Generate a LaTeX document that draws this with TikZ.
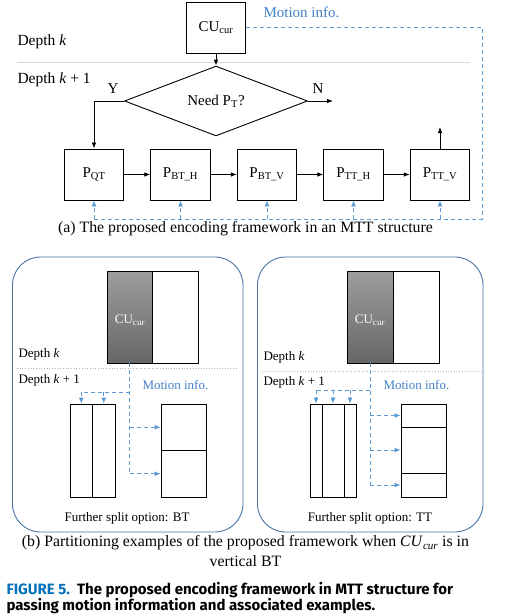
\documentclass[tikz,border=0pt]{standalone}
\usepackage{fontspec}
\setmainfont{Liberation Serif}
\newfontfamily\figfont{Fira Sans}
\usetikzlibrary{shapes.geometric,arrows.meta,positioning,calc}
\definecolor{mvBlue}{RGB}{91,155,213}
\definecolor{mvText}{RGB}{66,128,198}
\definecolor{panelBlue}{RGB}{72,116,164}
\definecolor{figBlue}{RGB}{0,112,186}

\begin{document}
\begin{tikzpicture}[x=1pt, y=-1pt,
    every node/.style={font=\fontsize{15}{17}\selectfont},
    pbox/.style={draw, line width=0.9pt, minimum width=59.5pt, minimum height=51pt, inner sep=0pt},
    flow/.style={-{Latex[length=6pt,width=4.5pt]}, line width=0.8pt},
    mvline/.style={mvBlue, line width=0.9pt, dash pattern=on 4pt off 3pt},
    mvarrow/.style={mvline, -{Latex[length=6pt,width=5pt]}},
    cell/.style={draw, line width=0.8pt, inner sep=0pt},
    cucell/.style={cell, top color=black!38, bottom color=black!60, text=white!88},
    panel/.style={draw=panelBlue, line width=0.9pt, rounded corners=28pt},
    small/.style={font=\fontsize{13}{15}\selectfont},
    capt/.style={font=\fontsize{15.8}{18}\selectfont},
    figcap/.style={anchor=west, font=\figfont\bfseries\fontsize{15}{17}\selectfont}]
  \useasboundingbox (0,0) rectangle (504,616);

  % (a) Encoding framework
  \node[pbox, minimum width=59pt] (cu) at (216,27.5) {CU\textsubscript{cur}};
  \node[anchor=west, mvText] (mi) at (260,12) {Motion info.};
  \node[anchor=west, font=\fontsize{15.5}{17}\selectfont] (dk) at (14,42) {Depth \textit{k}};
  \node[anchor=west, font=\fontsize{15.5}{17}\selectfont] (dk1) at (14,80) {Depth \textit{k} + 1};
  \draw[black!15, line width=0.8pt] (17,62) -- (470,62);
  \node[draw, diamond, line width=0.9pt, minimum width=183pt, minimum height=50pt, inner sep=0pt]
    (need) at (216,101) {Need P\textsubscript{T}?};
  \node (yes) at (113,89) {Y};
  \node (no) at (318,89) {N};
  \node[pbox] (pqt) at (94,174.5) {P\textsubscript{QT}};
  \node[pbox] (pbth) at (180.5,174.5) {P\textsubscript{BT\_H}};
  \node[pbox] (pbtv) at (267,174.5) {P\textsubscript{BT\_V}};
  \node[pbox] (ptth) at (353.5,174.5) {P\textsubscript{TT\_H}};
  \node[pbox] (pttv) at (440,174.5) {P\textsubscript{TT\_V}};
  \coordinate (nout) at (333,101);
  \coordinate (vout) at (440,127);
  \coordinate (bus) at (482,219);
  % Arrows
  \draw[flow] (cu) -- (need);
  \draw[flow] (need.east) -- (nout);
  \draw[flow] (need.west) -| (pqt.north);
  \draw[flow] (pqt) -- (pbth);
  \draw[flow] (pbth) -- (pbtv);
  \draw[flow] (pbtv) -- (ptth);
  \draw[flow] (ptth) -- (pttv);
  \draw[flow] (pttv.north) -- (vout);
  % Motion info. passing
  \draw[mvline] (cu.east) -| (bus) -- (pqt.south |- bus);
  \foreach \p in {pqt,pbth,pbtv,ptth,pttv}
    \draw[mvarrow] (\p.south |- bus) -- (\p.south);
  \node[capt] (capa) at (245.5,229) {(a) The proposed encoding framework in an MTT structure};

  % (b) BT example
  \draw[panel] (12.5,257) rectangle (243,532);
  \node[cucell, minimum width=45pt, minimum height=92pt] (cua) at (129.5,317) {};
  \node[cell, minimum width=46pt, minimum height=92pt, anchor=west] (cuar) at (cua.east) {};
  \node[small, text=white!88] (cual) at (130,320) {CU\textsubscript{cur}};
  \node[small, anchor=west] (dka) at (15,354) {Depth \textit{k}};
  \node[small, anchor=west] (dk1a) at (15,380) {Depth \textit{k} + 1};
  \draw[black!30, line width=0.7pt, dotted] (17,368) -- (238,368);
  \node[small, anchor=west, mvText] (mia) at (139,385) {Motion info.};
  \node[cell, minimum width=22.5pt, minimum height=93pt] (ba1) at (81.25,450.5) {};
  \node[cell, minimum width=22.5pt, minimum height=93pt] (ba2) at (103.75,450.5) {};
  \node[cell, minimum width=45pt, minimum height=46.5pt] (ha1) at (183.5,427.25) {};
  \node[cell, minimum width=45pt, minimum height=46.5pt] (ha2) at (183.5,473.75) {};
  \coordinate (ja) at (cua.south |- 0,392);
  \draw[mvline] (cua.south) -- (cua.south |- ha2.west);
  \draw[mvline] (ja) -- (ba1.north |- ja);
  \draw[mvarrow] (ba1.north |- ja) -- (ba1.north);
  \draw[mvarrow] (ba2.north |- ja) -- (ba2.north);
  \draw[mvarrow] (cua.south |- ha1.west) -- (ha1.west);
  \draw[mvarrow] (cua.south |- ha2.west) -- (ha2.west);
  \node[small] (fsa) at (127,518) {Further split option: BT};

  % (b) TT example
  \draw[panel] (257.5,257) rectangle (483,532);
  \node[cucell, minimum width=46pt, minimum height=92pt] (cub) at (370,317) {};
  \node[cell, minimum width=46pt, minimum height=92pt, anchor=west] (cubr) at (cub.east) {};
  \node[small, text=white!88] (cubl) at (370,320) {CU\textsubscript{cur}};
  \node[small, anchor=west] (dkb) at (260,357) {Depth \textit{k}};
  \node[small, anchor=west] (dk1b) at (260,382) {Depth \textit{k} + 1};
  \draw[black!30, line width=0.7pt, dotted] (262,371) -- (482,371);
  \node[small, anchor=west, mvText] (mib) at (380,385) {Motion info.};
  \node[cell, minimum width=12pt, minimum height=93pt] (tb1) at (316,450.5) {};
  \node[cell, minimum width=22pt, minimum height=93pt] (tb2) at (333,450.5) {};
  \node[cell, minimum width=12pt, minimum height=93pt] (tb3) at (350,450.5) {};
  \node[cell, minimum width=45pt, minimum height=23pt] (th1) at (423.5,415.5) {};
  \node[cell, minimum width=45pt, minimum height=46pt] (th2) at (423.5,450) {};
  \node[cell, minimum width=45pt, minimum height=24pt] (th3) at (423.5,485) {};
  \coordinate (jb) at (cub.south |- 0,390);
  \draw[mvline] (cub.south) -- (cub.south |- th3.west);
  \draw[mvline] (jb) -- (tb1.north |- jb);
  \foreach \t in {tb1,tb2,tb3}
    \draw[mvarrow] (\t.north |- jb) -- (\t.north);
  \foreach \t in {th1,th2,th3}
    \draw[mvarrow] (cub.south |- \t.west) -- (\t.west);
  \node[small] (fsb) at (370,518) {Further split option: TT};

  % Captions
  \node[capt] (capb) at (245.5,543) {(b) Partitioning examples of the proposed framework when \textit{CU}\textsubscript{\textit{cur}} is in};
  \node[capt] (capb2) at (245.5,561) {vertical BT};
  \node[figcap] (fig1) at (3,590)
    {\textcolor{figBlue}{FIGURE 5.}\ \ The proposed encoding framework in MTT structure for};
  \node[figcap] (fig2) at (3,606)
    {passing motion information and associated examples.};
\end{tikzpicture}
\end{document}
